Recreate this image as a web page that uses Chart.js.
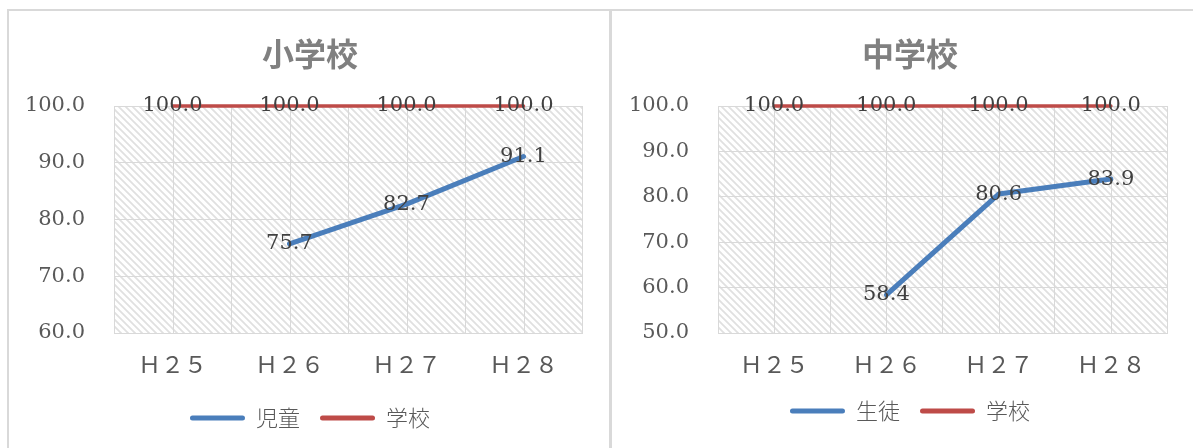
<!DOCTYPE html>
<html><head><meta charset="utf-8">
<script src="https://cdn.jsdelivr.net/npm/chart.js@4.4.0/dist/chart.umd.min.js"></script>
<style>
html,body{margin:0;padding:0;background:#fff;width:1193px;height:448px;overflow:hidden;}
#frame{position:absolute;left:7px;top:9px;width:1190px;height:445px;border-top:2px solid #d9d9d9;border-left:2px solid #d9d9d9;}
#divider{position:absolute;left:609px;top:11px;width:3px;height:437px;background:#d9d9d9;}
.box{position:absolute;top:11px;height:437px;}
#b1{left:9px;width:600px;}
#b2{left:612px;width:581px;}
</style></head><body>
<div id="frame"></div>
<div id="divider"></div>
<div class="box" id="b1"><canvas id="c1" width="600" height="437"></canvas></div>
<div class="box" id="b2"><canvas id="c2" width="581" height="437"></canvas></div>
<script>
// ---- data ----
const categories = ['Ｈ２５', 'Ｈ２６', 'Ｈ２７', 'Ｈ２８'];
const elemTitle = '小学校';
const juniorTitle = '中学校';
const elemSeriesNames = ['児童', '学校'];
const juniorSeriesNames = ['生徒', '学校'];
const elemPupils = [null, 75.7, 82.7, 91.1];
const elemSchools = [100.0, 100.0, 100.0, 100.0];
const juniorStudents = [null, 58.4, 80.6, 83.9];
const juniorSchools = [100.0, 100.0, 100.0, 100.0];
const elemYTicks = [60, 70, 80, 90, 100];
const juniorYTicks = [50, 60, 70, 80, 90, 100];

const BLUE = '#4A7EBB', RED = '#BE4B48', GRID = '#d9d9d9';
const SERIF = '"DejaVu Serif", "Liberation Serif", serif';
const CJK = '"Noto Sans CJK JP", "Noto Sans", sans-serif';

function makePattern(ctx) {
  const n = 7;
  const c = document.createElement('canvas'); c.width = n; c.height = n;
  const g = c.getContext('2d');
  g.fillStyle = '#fff'; g.fillRect(0, 0, n, n);
  g.strokeStyle = '#e0e0e0'; g.lineWidth = 1.8;
  g.beginPath();
  g.moveTo(-1, -1); g.lineTo(n + 1, n + 1);
  g.moveTo(-1, n - 1); g.lineTo(1, n + 1);
  g.moveTo(n - 1, -1); g.lineTo(n + 1, 1);
  g.stroke();
  return ctx.createPattern(c, 'repeat');
}

const plotDecor = {
  id: 'plotDecor',
  beforeDraw(chart) {
    const {ctx, chartArea: a} = chart;
    ctx.save();
    ctx.fillStyle = makePattern(ctx);
    ctx.fillRect(a.left, a.top, a.right - a.left, a.bottom - a.top);
    ctx.restore();
  },
  beforeDatasetsDraw(chart) {
    const {ctx, chartArea: a, scales} = chart;
    const x = scales.x;
    ctx.save();
    ctx.strokeStyle = GRID; ctx.lineWidth = 1;
    for (let i = 0; i < chart.data.labels.length; i++) {
      const px = Math.round(x.getPixelForValue(i)) + 0.5;
      ctx.beginPath(); ctx.moveTo(px, a.top); ctx.lineTo(px, a.bottom); ctx.stroke();
    }
    ctx.restore();
  },
  afterDatasetsDraw(chart) {
    const {ctx} = chart;
    ctx.save();
    ctx.font = '21px ' + SERIF;
    ctx.fillStyle = '#404040';
    ctx.textAlign = 'center'; ctx.textBaseline = 'middle';
    chart.data.datasets.forEach((ds, di) => {
      chart.getDatasetMeta(di).data.forEach((pt, j) => {
        const v = ds.data[j];
        if (v == null) return;
        ctx.fillText(v.toFixed(1), pt.x, pt.y);
      });
    });
    ctx.restore();
  }
};

function makeChart(id, title, names, s1, s2, yTicks, L) {
  const ctx = document.getElementById(id).getContext('2d');
  return new Chart(ctx, {
    type: 'line',
    data: {
      labels: categories,
      datasets: [
        {label: names[0], data: s1, borderColor: BLUE, backgroundColor: BLUE, borderWidth: 5, pointRadius: 0, borderCapStyle: 'round', borderJoinStyle: 'round', tension: 0, clip: false},
        {label: names[1], data: s2, borderColor: RED, backgroundColor: RED, borderWidth: 3.5, pointRadius: 0, borderCapStyle: 'round', tension: 0, clip: false}
      ]
    },
    options: {
      responsive: false,
      animation: false,
      events: [],
      layout: {padding: {left: L.padL, right: L.padR, top: 0, bottom: L.padB}},
      plugins: {
        tooltip: {enabled: false},
        title: {
          display: true, text: title, color: '#808080',
          font: {family: CJK, size: 32, weight: 'bold', lineHeight: 1.2},
          padding: {top: 24, bottom: 32.6}
        },
        legend: {
          position: 'bottom',
          labels: {
            color: '#595959',
            font: {family: CJK, size: 22, weight: 300},
            boxWidth: 55, boxHeight: 5, padding: 20,
            useBorderRadius: true, borderRadius: 2.5,
            generateLabels(chart) {
              return chart.data.datasets.map((ds, i) => ({
                text: ds.label, fillStyle: ds.borderColor, strokeStyle: ds.borderColor,
                lineWidth: 0, hidden: false, datasetIndex: i, fontColor: '#595959', borderRadius: 2.5
              }));
            }
          }
        }
      },
      scales: {
        x: {
          type: 'category',
          offset: true,
          grid: {offset: true, color: GRID, lineWidth: 1, drawTicks: false},
          border: {display: true, color: GRID, width: 1},
          ticks: {color: '#595959', font: {family: SERIF + ', ' + CJK, size: 23}, padding: 20, maxRotation: 0},
          afterFit(s) { s.height = L.xH; }
        },
        y: {
          min: yTicks[0], max: yTicks[yTicks.length - 1],
          afterBuildTicks(s) { s.ticks = yTicks.map(v => ({value: v})); },
          grid: {color: GRID, lineWidth: 1, drawTicks: false},
          border: {display: false},
          ticks: {color: '#595959', font: {family: SERIF, size: 21}, padding: 29,
                  callback: v => Number(v).toFixed(1)},
          afterFit(s) {
            s.width = L.yW;
            // let tick labels extend past the narrow axis box without clipping
            s._computeLabelArea = () => undefined;
          }
        }
      }
    },
    plugins: [plotDecor]
  });
}

makeChart('c1', elemTitle, elemSeriesNames, elemPupils, elemSchools, elemYTicks,
  {padL: 29, padR: 27, padB: 9, yW: 76, xH: 54});
makeChart('c2', juniorTitle, juniorSeriesNames, juniorStudents, juniorSchools, juniorYTicks,
  {padL: 41, padR: 26, padB: 16, yW: 65, xH: 47});
</script>
</body></html>
